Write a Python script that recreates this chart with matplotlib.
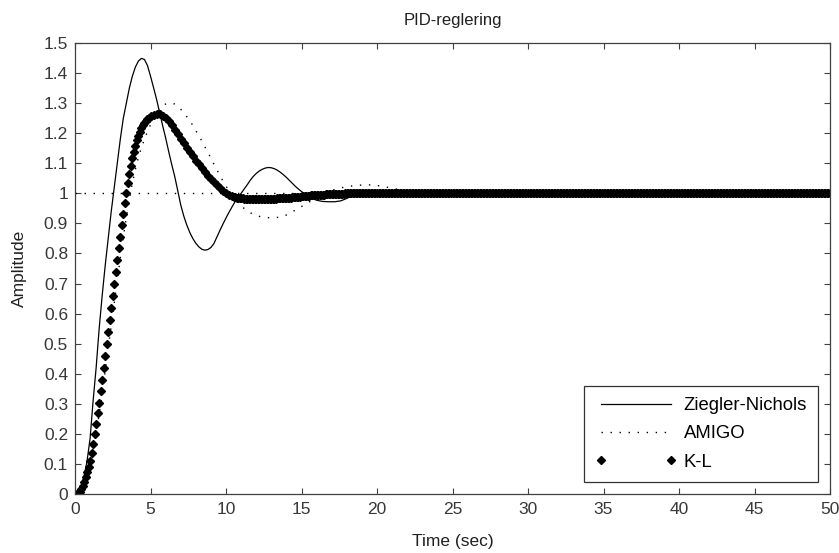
import numpy as np
import matplotlib
matplotlib.use("Agg")
import matplotlib.pyplot as plt

# ---------------- data ----------------
title = "PID-reglering"
xlabel = "Time (sec)"
ylabel = "Amplitude"
series_names = ["Ziegler-Nichols", "AMIGO", "K-L"]

x_ticks = [0, 5, 10, 15, 20, 25, 30, 35, 40, 45, 50]
y_ticks = [0, 0.1, 0.2, 0.3, 0.4, 0.5, 0.6, 0.7, 0.8, 0.9, 1.0,
           1.1, 1.2, 1.3, 1.4, 1.5]
y_tick_labels = ["0", "0.1", "0.2", "0.3", "0.4", "0.5", "0.6", "0.7",
                 "0.8", "0.9", "1", "1.1", "1.2", "1.3", "1.4", "1.5"]

# Ziegler-Nichols (solid line)
zn_t = [0.0, 0.2, 0.4, 0.6, 0.8, 1.0, 1.2, 1.4, 1.6, 1.8,
        2.0, 2.2, 2.4, 2.6, 2.8, 3.0, 3.2, 3.4, 3.6, 3.8,
        4.0, 4.2, 4.4, 4.6, 4.8, 5.0, 5.2, 5.4, 5.6, 5.8,
        6.0, 6.2, 6.4, 6.6, 6.8, 7.0, 7.2, 7.4, 7.6, 7.8,
        8.0, 8.2, 8.4, 8.6, 8.8, 9.0, 9.2, 9.4, 9.6, 9.8,
        10.0, 10.2, 10.4, 10.6, 10.8, 11.0, 11.2, 11.4, 11.6, 11.8,
        12.0, 12.2, 12.4, 12.6, 12.8, 13.0, 13.2, 13.4, 13.6, 13.8,
        14.0, 14.2, 14.4, 14.6, 14.8, 15.0, 15.2, 15.4, 15.6, 15.8,
        16.0, 16.4, 16.8, 17.2, 17.6, 18.0, 18.4, 18.8, 19.2, 19.6,
        20.0, 21.0, 22.0, 24.0, 30.0, 40.0, 50.0]
zn_y = [0.000, 0.005, 0.025, 0.060, 0.110, 0.185, 0.310, 0.420, 0.550, 0.660,
        0.760, 0.850, 0.940, 1.020, 1.100, 1.180, 1.250, 1.300, 1.350, 1.390,
        1.420, 1.440, 1.449, 1.445, 1.425, 1.390, 1.352, 1.313, 1.270, 1.226,
        1.185, 1.140, 1.097, 1.057, 1.010, 0.962, 0.925, 0.895, 0.870, 0.850,
        0.834, 0.822, 0.814, 0.811, 0.813, 0.820, 0.833, 0.855, 0.877, 0.898,
        0.918, 0.937, 0.955, 0.972, 0.987, 1.000, 1.014, 1.028, 1.043, 1.056,
        1.066, 1.074, 1.080, 1.084, 1.086, 1.085, 1.082, 1.077, 1.070, 1.062,
        1.053, 1.043, 1.033, 1.023, 1.014, 1.006, 0.999, 0.992, 0.986, 0.981,
        0.977, 0.973, 0.972, 0.972, 0.975, 0.983, 0.993, 1.000, 1.004, 1.006,
        1.006, 1.004, 1.002, 1.000, 1.000, 1.000, 1.000]

# AMIGO (dotted line)
amigo_t = [0.0, 0.2, 0.4, 0.6, 0.8, 1.0, 1.2, 1.4, 1.6, 1.8,
           2.0, 2.2, 2.4, 2.6, 2.8, 3.0, 3.2, 3.4, 3.6, 3.8,
           4.0, 4.2, 4.4, 4.6, 4.8, 5.0, 5.2, 5.4, 5.6, 5.8,
           6.0, 6.2, 6.4, 6.6, 6.8, 7.0, 7.2, 7.4, 7.6, 7.8,
           8.0, 8.2, 8.4, 8.6, 8.8, 9.0, 9.2, 9.4, 9.6, 9.8,
           10.0, 10.2, 10.4, 10.6, 10.8, 11.0, 11.2, 11.4, 11.6, 11.8,
           12.0, 12.4, 12.8, 13.2, 13.6, 14.0, 14.4, 14.8, 15.2, 15.6,
           16.0, 16.4, 16.8, 17.2, 17.6, 18.0, 18.4, 18.8, 19.2, 19.6,
           20.0, 20.4, 20.8, 21.2, 21.6, 22.0, 23.0, 24.0, 30.0, 40.0, 50.0]
amigo_y = [0.000, 0.001, 0.010, 0.030, 0.060, 0.095, 0.140, 0.200, 0.265, 0.335,
           0.410, 0.485, 0.560, 0.635, 0.710, 0.785, 0.855, 0.920, 0.980, 1.035,
           1.080, 1.120, 1.152, 1.180, 1.205, 1.228, 1.248, 1.265, 1.280, 1.291,
           1.297, 1.300, 1.300, 1.297, 1.290, 1.280, 1.268, 1.255, 1.242, 1.226,
           1.209, 1.192, 1.174, 1.155, 1.136, 1.117, 1.097, 1.078, 1.059, 1.041,
           1.024, 1.008, 0.993, 0.980, 0.968, 0.958, 0.950, 0.942, 0.936, 0.930,
           0.926, 0.921, 0.919, 0.919, 0.921, 0.928, 0.939, 0.950, 0.962, 0.974,
           0.985, 0.996, 1.006, 1.013, 1.018, 1.022, 1.025, 1.027, 1.028, 1.028,
           1.026, 1.023, 1.019, 1.015, 1.011, 1.008, 1.003, 1.001, 1.000, 1.000, 1.000]

# K-L (diamond markers): every 0.1 s from 0 to 5 s
kl_y_a = [0.000, 0.000, 0.002, 0.007, 0.015, 0.026, 0.040, 0.055, 0.072, 0.090,
          0.110, 0.135, 0.165, 0.198, 0.233, 0.268, 0.304, 0.341, 0.379, 0.418,
          0.458, 0.498, 0.538, 0.578, 0.618, 0.658, 0.698, 0.738, 0.778, 0.817,
          0.856, 0.894, 0.931, 0.967, 1.001, 1.033, 1.063, 1.091, 1.116, 1.139,
          1.159, 1.177, 1.192, 1.205, 1.216, 1.226, 1.234, 1.241, 1.247, 1.252,
          1.256]
# every 0.2 s from 5.2 s to 10.4 s
kl_y_b = [1.261, 1.264, 1.263, 1.258, 1.250, 1.239, 1.226, 1.212, 1.197, 1.182,
          1.167, 1.152, 1.137, 1.123, 1.109, 1.096, 1.083, 1.071, 1.059, 1.048,
          1.037, 1.027, 1.017, 1.009, 1.001, 0.995, 0.990]
# every 0.1 s from 10.5 s to 20.0 s
kl_y_c = [0.988, 0.987, 0.986, 0.985, 0.984, 0.983, 0.983, 0.982, 0.982, 0.982,
          0.981, 0.981, 0.981, 0.981, 0.981, 0.981, 0.981, 0.981, 0.981, 0.981,
          0.981, 0.981, 0.981, 0.982, 0.982, 0.982, 0.982, 0.982, 0.982, 0.983,
          0.983, 0.983, 0.984, 0.984, 0.984, 0.985, 0.985, 0.986, 0.986, 0.987,
          0.987, 0.988, 0.988, 0.989, 0.989, 0.990, 0.990, 0.991, 0.991, 0.992,
          0.992, 0.993, 0.993, 0.994, 0.994, 0.995, 0.995, 0.995, 0.996, 0.996,
          0.996, 0.997, 0.997, 0.997, 0.997, 0.998, 0.998, 0.998, 0.998, 0.999,
          0.999, 0.999, 0.999, 0.999, 1.000, 1.000, 1.000, 1.000, 1.000, 1.000,
          1.000, 1.000, 1.000, 1.000, 1.000, 1.000, 1.000, 1.000, 1.000, 1.000,
          1.000, 1.000, 1.000, 1.000, 1.000, 1.000]
# every 0.1 s from 20.1 s to 50 s (settled)
kl_y_d = [1.000] * 300

steady_state = 1.0

# ---------------- sample grids ----------------
kl_t = np.concatenate([0.0 + 0.1 * np.arange(len(kl_y_a)),
                       5.2 + 0.2 * np.arange(len(kl_y_b)),
                       10.5 + 0.1 * np.arange(len(kl_y_c)),
                       20.1 + 0.1 * np.arange(len(kl_y_d))])
kl_y = np.concatenate([kl_y_a, kl_y_b, kl_y_c, kl_y_d])

# ---------------- figure ----------------
plt.rcParams['font.family'] = ['Liberation Sans', 'DejaVu Sans']
W, H = 839, 553
fig = plt.figure(figsize=(W / 100, H / 100), dpi=100)
ax = fig.add_axes([75 / W, 1 - 494 / H, (830 - 75) / W, (494 - 43) / H])

l1, = ax.plot(zn_t, zn_y, color='black', lw=0.9, label=series_names[0])
l2, = ax.plot(amigo_t, amigo_y, color='black', lw=1.0,
              linestyle=(0, (1.0, 5.5)), label=series_names[1])
ax.plot([0, 50], [steady_state, steady_state], color='black', lw=1.0,
        linestyle=(0, (1.0, 5.5)))
l3, = ax.plot(kl_t, kl_y, linestyle='none', marker='D', markersize=4.4,
              color='black', label=series_names[2])

ax.set_xlim(0, 50)
ax.set_ylim(0, 1.5)
ax.set_xticks(x_ticks)
ax.set_xticklabels([str(v) for v in x_ticks])
ax.set_yticks(y_ticks)
ax.set_yticklabels(y_tick_labels)

tick_col = '#383838'
for s in ax.spines.values():
    s.set_color('#404040')
    s.set_linewidth(0.9)
ax.tick_params(direction='in', length=4, width=0.8, colors='#404040',
               labelcolor=tick_col, labelsize=12.5, top=True, right=True)
ax.tick_params(axis='y', pad=5)
ax.tick_params(axis='x', pad=6)

ax.set_title(title, fontsize=12, color='#202020', pad=13)
ax.set_xlabel(xlabel, fontsize=12.5, color='#202020', labelpad=12)
ax.set_ylabel(ylabel, fontsize=12.5, color='#202020', labelpad=12)

leg = ax.legend(handles=[l1, l2, l3], loc='lower right', numpoints=2,
                fontsize=13.3, handlelength=4.4, handletextpad=0.38,
                borderpad=0.6, labelspacing=0.62, frameon=True,
                fancybox=False, borderaxespad=0.65)
leg.get_frame().set_edgecolor('black')
leg.get_frame().set_linewidth(0.9)

fig.savefig("out.png", dpi=100)
